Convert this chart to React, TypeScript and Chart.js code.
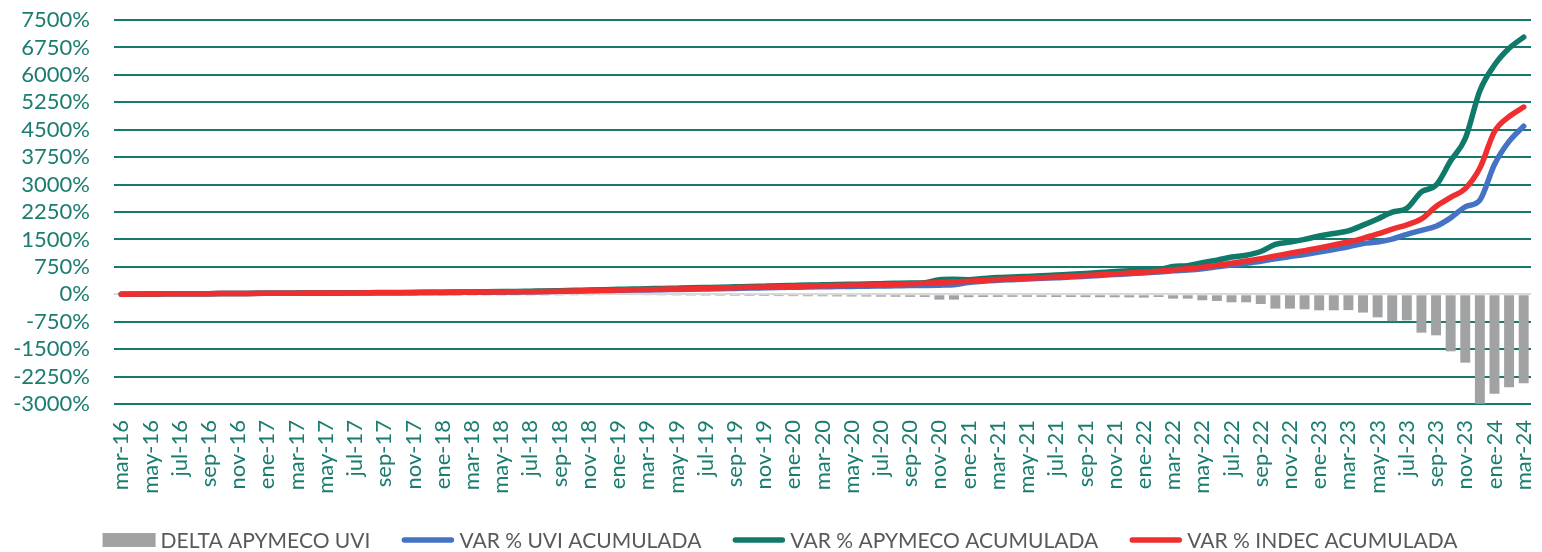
import React, { useEffect, useRef } from "react";
import { Chart, registerables } from "chart.js";

Chart.register(...registerables);

const CATEGORIES = [
  "mar-16","abr-16","may-16","jun-16","jul-16","ago-16","sep-16","oct-16","nov-16","dic-16",
  "ene-17","feb-17","mar-17","abr-17","may-17","jun-17","jul-17","ago-17","sep-17","oct-17","nov-17","dic-17",
  "ene-18","feb-18","mar-18","abr-18","may-18","jun-18","jul-18","ago-18","sep-18","oct-18","nov-18","dic-18",
  "ene-19","feb-19","mar-19","abr-19","may-19","jun-19","jul-19","ago-19","sep-19","oct-19","nov-19","dic-19",
  "ene-20","feb-20","mar-20","abr-20","may-20","jun-20","jul-20","ago-20","sep-20","oct-20","nov-20","dic-20",
  "ene-21","feb-21","mar-21","abr-21","may-21","jun-21","jul-21","ago-21","sep-21","oct-21","nov-21","dic-21",
  "ene-22","feb-22","mar-22","abr-22","may-22","jun-22","jul-22","ago-22","sep-22","oct-22","nov-22","dic-22",
  "ene-23","feb-23","mar-23","abr-23","may-23","jun-23","jul-23","ago-23","sep-23","oct-23","nov-23","dic-23",
  "ene-24","feb-24","mar-24",
];

const DELTA_APYMECO_UVI = [
  0,0,0,0,0,-1,-1,-1,-2,-2,-2,-3,-3,-3,-4,-4,-5,-5,-6,-6,-7,-7,-8,-9,-10,-11,-12,-13,-15,-17,
  -19,-21,-23,-25,-27,-29,-31,-33,-35,-37,-39,-41,-43,-45,-47,-49,-51,-53,-55,-58,-60,-62,-65,-68,-70,-72,
  -146,-146,
  -80,-75,-72,-70,-70,-72,-75,-75,-78,-80,-82,-85,
  -91,-73,-119,-119,-164,-182,-219,-219,-265,-392,-392,-410,-438,-438,
  -433,-500,-630,-735,-712,-1049,-1122,-1560,-1870,-2992,-2718,-2545,-2435,
];

const VAR_UVI = [
  0,4,8,12,14,16,17,19,21,23,25,27,29,31,33,35,37,39,41,43,45,47,49,52,55,58,61,64,69,74,80,87,95,102,
  108,114,120,127,133,139,146,153,161,169,176,183,191,199,205,210,215,220,226,232,
  238,243,250,262,320,355,385,
  400,418,435,452,470,492,515,538,562,
  585,610,640,665,700,750,800,850,905,970,1035,1090,1155,1225,
  1300,1390,1430,1510,1640,1750,1860,2090,2390,2575,3550,4180,4598,
];

const VAR_APYMECO = [
  0,4,8,12,14,17,18,20,23,25,27,30,32,34,37,39,42,44,47,49,52,54,57,61,65,69,73,77,84,91,
  99,108,118,127,135,143,151,160,168,176,185,194,204,214,223,232,242,252,260,268,275,282,291,300,308,315,
  396,408,
  400,430,457,470,488,507,527,545,570,595,620,647,
  676,683,759,784,864,932,1019,1069,1170,1362,1427,1500,1593,1663,
  1733,1890,2060,2245,2352,2799,2982,3650,4260,5567,6268,6725,7033,
];

const VAR_INDEC = [
  0,5,9,13,15,17,18,20,22,24,26,28,30,32,34,36,38,40,42,44,46,48,51,54,57,60,63,67,72,78,85,93,101,109,
  116,123,131,139,146,153,161,169,179,189,197,206,215,225,234,240,246,254,264,276,
  290,305,322,340,358,380,405,
  420,438,455,472,490,512,535,558,580,
  605,632,665,700,740,790,850,910,975,1050,1120,1195,1270,1350,
  1430,1530,1650,1780,1900,2060,2400,2650,2890,3450,4450,4860,5120,
];

const Y_MIN = -3000;
const Y_MAX = 7500;
const Y_STEP = 750;

const TEAL = "#15796c";
const TEXT_TEAL = "#1b7c70";

const legendPlugin = {
  id: "customLegend",
  afterDraw(chart: any) {
    const ctx = chart.ctx;
    ctx.save();
    ctx.font = "21px Lato";
    const items = chart.data.datasets.map((ds: any) => ({
      label: ds.label,
      type: ds.type,
      color: ds.type === "line" ? ds.borderColor : ds.backgroundColor,
    }));
    const symW = 53;
    const gapText = 5;
    const gapItem = 31;
    const widths = items.map((it: any) => symW + gapText + ctx.measureText(it.label).width);
    const total = widths.reduce((a: number, b: number) => a + b, 0) + gapItem * (items.length - 1);
    let x = 780 - total / 2;
    const y = 540;
    items.forEach((it: any, i: number) => {
      if (it.type === "line") {
        ctx.strokeStyle = it.color;
        ctx.lineWidth = 5.5;
        ctx.lineCap = "round";
        ctx.beginPath();
        ctx.moveTo(x + 3, y);
        ctx.lineTo(x + symW - 3, y);
        ctx.stroke();
      } else {
        ctx.fillStyle = it.color;
        ctx.fillRect(x, y - 7, symW, 14);
      }
      ctx.fillStyle = "#595959";
      ctx.textBaseline = "middle";
      ctx.textAlign = "left";
      ctx.fillText(it.label, x + symW + gapText, y + 1);
      x += widths[i] + gapItem;
    });
    ctx.restore();
  },
};

export default function App() {
  const canvasRef = useRef<HTMLCanvasElement | null>(null);

  useEffect(() => {
    if (!canvasRef.current) return;
    Chart.defaults.font.family = "Lato";
    const lineBase = {
      type: "line",
      borderWidth: 5.5,
      pointRadius: 0,
      cubicInterpolationMode: "monotone",
      borderCapStyle: "round",
      borderJoinStyle: "round",
    };
    const chart = new Chart(canvasRef.current, {
      type: "bar",
      data: {
        labels: CATEGORIES,
        datasets: [
          {
            type: "bar",
            label: "DELTA APYMECO UVI",
            data: DELTA_APYMECO_UVI,
            backgroundColor: "#a0a2a3",
            borderWidth: 0,
            categoryPercentage: 1,
            barPercentage: 0.68,
            order: 4,
          },
          {
            ...lineBase,
            label: "VAR % UVI ACUMULADA",
            data: VAR_UVI,
            borderColor: "#4472c4",
            backgroundColor: "#4472c4",
            order: 3,
          },
          {
            ...lineBase,
            label: "VAR % APYMECO ACUMULADA",
            data: VAR_APYMECO,
            borderColor: "#0f7a6a",
            backgroundColor: "#0f7a6a",
            order: 2,
          },
          {
            ...lineBase,
            label: "VAR % INDEC ACUMULADA",
            data: VAR_INDEC,
            borderColor: "#ef2f2f",
            backgroundColor: "#ef2f2f",
            order: 1,
          },
        ] as any,
      },
      options: {
        responsive: false,
        animation: false,
        layout: { padding: { top: 20, right: 11, bottom: 0, left: 0 } },
        plugins: {
          legend: { display: false },
          tooltip: { enabled: false },
        },
        scales: {
          x: {
            grid: { display: false, drawTicks: false },
            border: { display: false },
            ticks: {
              autoSkip: false,
              minRotation: 90,
              maxRotation: 90,
              padding: 16,
              color: TEXT_TEAL,
              font: { size: 22, family: "Lato" },
              callback: (_v: any, i: number) => (i % 2 === 0 ? CATEGORIES[i] : ""),
            },
            afterFit: (s: any) => {
              s.height = 148;
              s.paddingLeft = 0;
              s.paddingRight = 0;
            },
          },
          y: {
            min: Y_MIN,
            max: Y_MAX,
            grid: {
              drawTicks: false,
              lineWidth: 2,
              color: (c: any) => (c.tick && c.tick.value === 0 ? "#d9d9d9" : TEAL),
            },
            border: { display: false },
            ticks: {
              autoSkip: false,
              stepSize: Y_STEP,
              padding: 24,
              color: TEXT_TEAL,
              font: { size: 22, family: "Lato" },
              callback: (v: any) => `${v}%`,
            },
            afterFit: (s: any) => {
              s.width = 114;
              s.paddingTop = 0;
              s.paddingBottom = 0;
            },
          },
        },
      },
      plugins: [legendPlugin],
    });
    return () => chart.destroy();
  }, []);

  return (
    <div style={{ position: "absolute", left: 0, top: 0, width: 1542, height: 552, background: "#fff" }}>
      <canvas ref={canvasRef} width={1542} height={552} />
    </div>
  );
}
